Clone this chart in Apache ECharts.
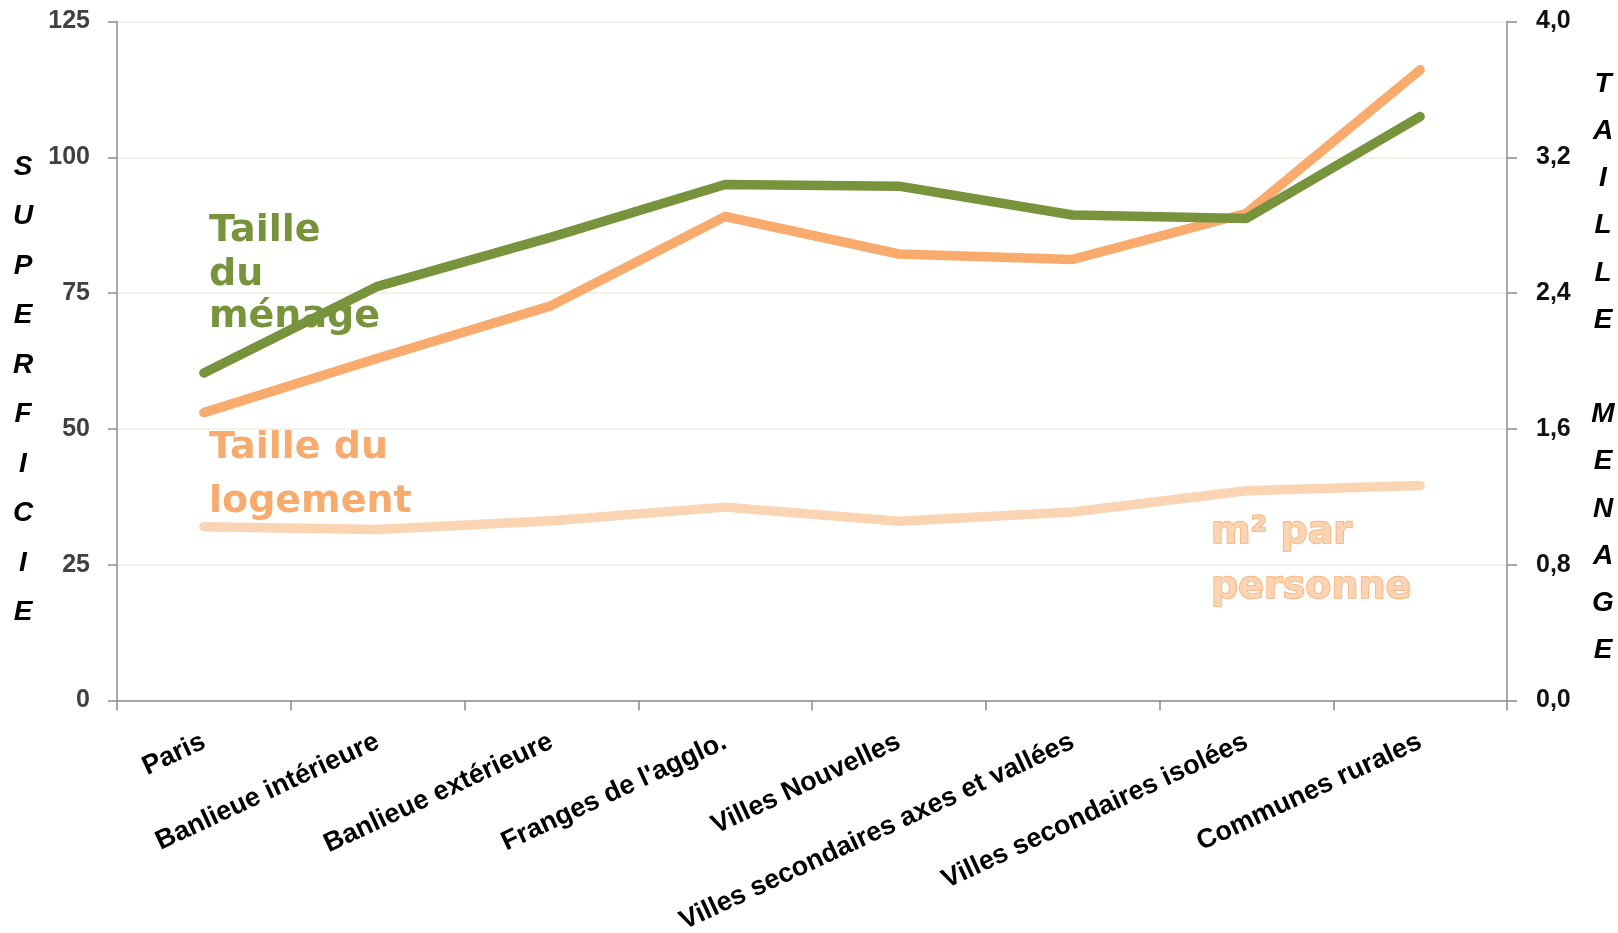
<!DOCTYPE html>
<html>
<head>
<meta charset="utf-8">
<script src="https://cdn.jsdelivr.net/npm/echarts@6/dist/echarts.min.js"></script>
<style>
html,body{margin:0;padding:0;background:#fff;}
#c{width:1618px;height:933px;}
</style>
</head>
<body>
<div id="c"></div>
<script>
const categories = ['Paris', 'Banlieue intérieure', 'Banlieue extérieure', "Franges de l'agglo.", 'Villes Nouvelles', 'Villes secondaires axes et vallées', 'Villes secondaires isolées', 'Communes rurales'];
const tailleLogement = [53.0, 63.0, 72.7, 89.1, 82.2, 81.2, 89.7, 116.1];
const tailleMenage = [1.93, 2.44, 2.73, 3.04, 3.03, 2.86, 2.84, 3.44];
const m2ParPersonne = [32.0, 31.5, 33.1, 35.6, 33.0, 34.7, 38.6, 39.6];
const leftTicks = {min: 0, max: 125, interval: 25};
const rightTicks = {min: 0, max: 4, interval: 0.8};
const leftName = 'SUPERFICIE';
const rightName = 'TAILLE MENAGE';

const GREEN = '#77933C', ORANGE = '#F9AB6D', LIGHT = '#FBD4B4';
const handFont = '"DejaVu Sans", sans-serif';

const chart = echarts.init(document.getElementById('c'));

function txt(x, y, s, fill, stroke) {
  const st = {text: s, x: 0, y: 0, font: 'bold 38px ' + handFont, fill: fill, align: 'left', verticalAlign: 'bottom'};
  if (stroke) { st.stroke = stroke; st.lineWidth = 1.5; }
  return {type: 'text', x: x, y: y, z: 0, silent: true, style: st};
}

chart.setOption({
  animation: false,
  textStyle: {fontFamily: '"Liberation Sans", Arial, sans-serif'},
  grid: {left: 117, right: 111, top: 21.5, bottom: 232.5, containLabel: false, outerBoundsMode: 'none'},
  xAxis: {
    type: 'category', data: categories, boundaryGap: true,
    axisLine: {lineStyle: {color: '#8c8c8c', width: 1.5}},
    axisTick: {show: true, interval: 0, length: 10, lineStyle: {color: '#8c8c8c', width: 1.5}},
    axisLabel: {interval: 0, rotate: 25, margin: 40, fontSize: 27, fontWeight: 'bold', color: '#000'}
  },
  yAxis: [{
    type: 'value', min: leftTicks.min, max: leftTicks.max, interval: leftTicks.interval,
    axisLine: {show: true, lineStyle: {color: '#8c8c8c', width: 1.5}},
    axisTick: {show: true, length: 9, lineStyle: {color: '#8c8c8c', width: 1.5}},
    axisLabel: {margin: 27, fontSize: 25, fontWeight: 'bold', color: '#404040'},
    splitLine: {lineStyle: {color: '#EEEEE4', width: 1.5}}
  }, {
    type: 'value', position: 'right', min: rightTicks.min, max: rightTicks.max, interval: rightTicks.interval,
    axisLine: {show: true, lineStyle: {color: '#8c8c8c', width: 1.5}},
    axisTick: {show: true, length: 10, lineStyle: {color: '#8c8c8c', width: 1.5}},
    axisLabel: {margin: 29, fontSize: 25, fontWeight: 'bold', color: '#111',
      formatter: v => v.toFixed(1).replace('.', ',')},
    splitLine: {show: false}
  }],
  series: [{
    name: 'm² par personne', type: 'line', yAxisIndex: 0, data: m2ParPersonne,
    symbol: 'none', lineStyle: {color: LIGHT, width: 9.5, cap: 'round', join: 'round'}, z: 2
  }, {
    name: 'Taille du logement', type: 'line', yAxisIndex: 0, data: tailleLogement,
    symbol: 'none', lineStyle: {color: ORANGE, width: 9.5, cap: 'round', join: 'round'}, z: 3
  }, {
    name: 'Taille du ménage', type: 'line', yAxisIndex: 1, data: tailleMenage,
    symbol: 'none', lineStyle: {color: GREEN, width: 9.5, cap: 'round', join: 'round'}, z: 4
  }],
  graphic: {elements: [
    txt(209, 250, 'Taille', GREEN),
    txt(209, 294, 'du', GREEN),
    txt(209, 336, 'ménage', GREEN),
    txt(209, 467, 'Taille du', ORANGE),
    txt(209, 521, 'logement', ORANGE),
    txt(1211, 552, 'm² par', LIGHT, ORANGE),
    txt(1211, 607, 'personne', LIGHT, ORANGE),
    {type: 'text', x: 23, y: 142.5, z: 0, silent: true, style: {
      text: leftName.split('').join('\n'), align: 'center', verticalAlign: 'top',
      font: 'italic bold 28px "Liberation Sans", Arial, sans-serif', fill: '#000', lineHeight: 49.5}},
    {type: 'text', x: 1603, y: 60.4, z: 0, silent: true, style: {
      text: rightName.split('').join('\n'), align: 'center', verticalAlign: 'top',
      font: 'italic bold 28px "Liberation Sans", Arial, sans-serif', fill: '#000', lineHeight: 47.2}}
  ]}
});
</script>
</body>
</html>
